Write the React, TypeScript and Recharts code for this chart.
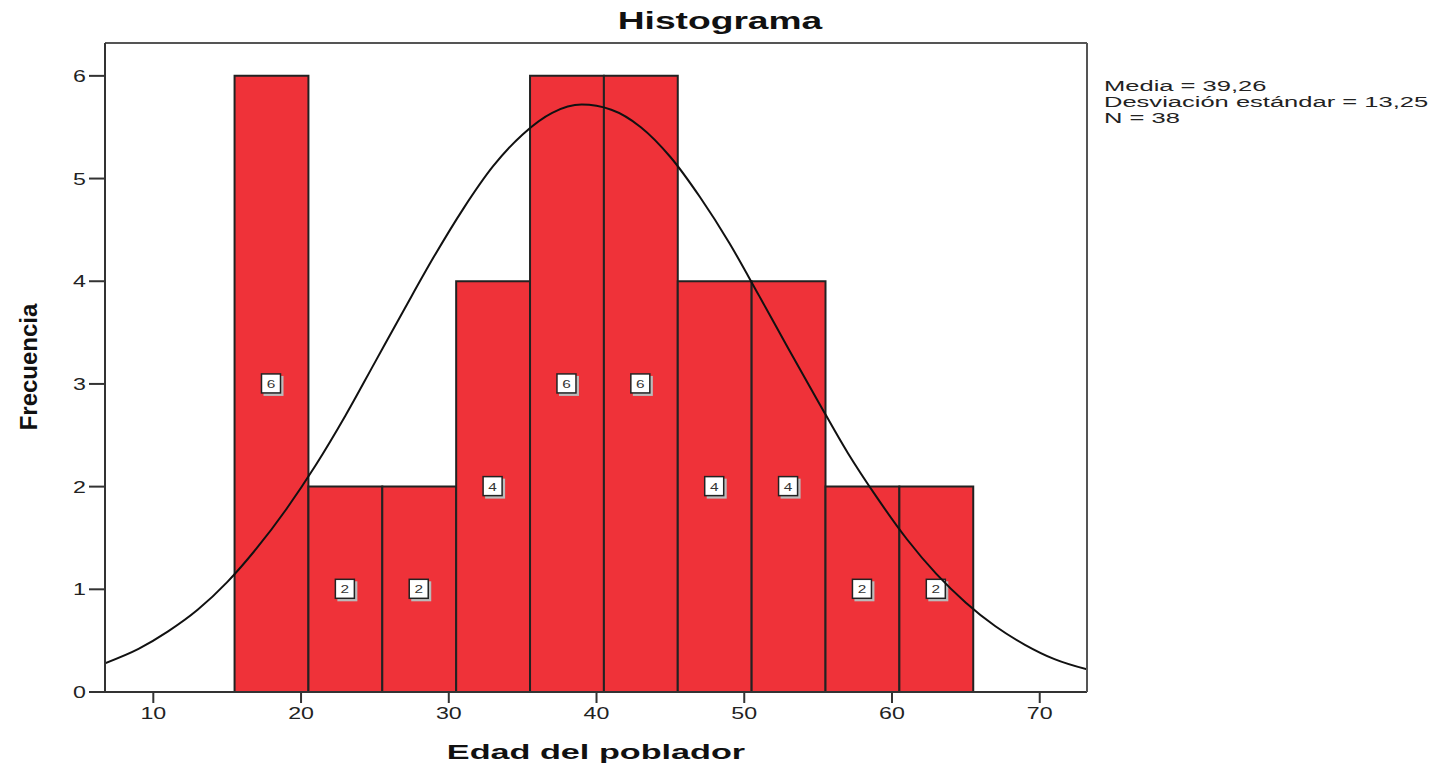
import React from "react"
import {
  ComposedChart,
  Line,
  XAxis,
  YAxis,
  ReferenceArea,
} from "recharts"

// histogram bins (edad) and frequencies
const binLower = [15.5, 20.5, 25.5, 30.5, 35.5, 40.5, 45.5, 50.5, 55.5, 60.5]
const binUpper = [20.5, 25.5, 30.5, 35.5, 40.5, 45.5, 50.5, 55.5, 60.5, 65.5]
const frequencies = [6, 2, 2, 4, 6, 6, 4, 4, 2, 2]

// normal curve
const curveAges = [
  6.73, 9, 11, 13, 15, 17, 19, 21, 23, 25, 27, 29, 31, 33, 35, 37, 39, 41, 43,
  45, 47, 49, 51, 53, 55, 57, 59, 61, 63, 65, 67, 69, 71, 73.2,
]
const curveFreq = [
  0.28, 0.42, 0.59, 0.8, 1.07, 1.4, 1.78, 2.21, 2.69, 3.21, 3.73, 4.24, 4.71,
  5.12, 5.43, 5.64, 5.72, 5.67, 5.5, 5.21, 4.82, 4.37, 3.86, 3.34, 2.83, 2.33,
  1.89, 1.49, 1.15, 0.87, 0.64, 0.46, 0.32, 0.22,
]

const xTicks = [10, 20, 30, 40, 50, 60, 70]
const yTicks = [0, 1, 2, 3, 4, 5, 6]
const statLines = ["Media = 39,26", "Desviación estándar = 13,25", "N = 38"]

const FONT = '"Liberation Sans", Arial, sans-serif'
const AXIS = "#333"
const BAR_FILL = "#ef3239"

const curveData = curveAges.map((age, i) => ({ age, freq: curveFreq[i] }))

const XTick = ({ x, y, payload }: any) => (
  <text
    transform={`translate(${x},${y + 12}) scale(1.45,1)`}
    textAnchor="middle"
    fontSize={16}
    fontFamily={FONT}
    fill="#222"
  >
    {payload.value}
  </text>
)

const YTick = ({ x, y, payload }: any) => (
  <text
    transform={`translate(${x},${y + 6}) scale(1.45,1)`}
    textAnchor="end"
    fontSize={16}
    fontFamily={FONT}
    fill="#222"
  >
    {payload.value}
  </text>
)

const CountBox = ({ viewBox, value }: any) => {
  if (!viewBox) return null
  const cx = viewBox.x + viewBox.width / 2
  const cy = viewBox.y + viewBox.height / 2
  return (
    <g>
      <rect x={cx - 8} y={cy - 8} width={20} height={20} fill="#bbb" />
      <rect
        x={cx - 10}
        y={cy - 10}
        width={19}
        height={19}
        fill="#fff"
        stroke="#222"
        strokeWidth={1.5}
      />
      <text
        transform={`translate(${cx - 0.5},${cy + 4}) scale(1.4,1)`}
        textAnchor="middle"
        fontSize={11}
        fontFamily={FONT}
        fill="#333"
      >
        {value}
      </text>
    </g>
  )
}

export default function App() {
  return (
    <div style={{ position: "absolute", left: 0, top: 0, width: 1435, height: 768 }}>
      <ComposedChart
        width={1435}
        height={768}
        data={curveData}
        margin={{ top: 42, right: 347, bottom: 36, left: 0 }}
      >
        <XAxis
          dataKey="age"
          type="number"
          domain={[6.73, 73.2]}
          ticks={xTicks}
          allowDataOverflow
          height={40}
          tickSize={11}
          tickMargin={4}
          tick={XTick}
          axisLine={{ stroke: AXIS, strokeWidth: 2 }}
          tickLine={{ stroke: AXIS, strokeWidth: 2 }}
        />
        <XAxis
          xAxisId="top"
          orientation="top"
          type="number"
          dataKey="age"
          domain={[6.73, 73.2]}
          allowDataOverflow
          height={1}
          tick={false}
          tickLine={false}
          axisLine={{ stroke: "#555", strokeWidth: 2 }}
        />
        <YAxis
          type="number"
          domain={[0, 6.32]}
          ticks={yTicks}
          allowDataOverflow
          width={105}
          tickSize={16}
          tickMargin={3}
          tick={YTick}
          axisLine={{ stroke: AXIS, strokeWidth: 2 }}
          tickLine={{ stroke: AXIS, strokeWidth: 2 }}
        />
        <YAxis
          yAxisId="right"
          orientation="right"
          type="number"
          domain={[0, 6.32]}
          allowDataOverflow
          width={1}
          tick={false}
          tickLine={false}
          axisLine={{ stroke: "#555", strokeWidth: 2 }}
        />
        {frequencies.map((f, i) => (
          <ReferenceArea
            key={i}
            x1={binLower[i]}
            x2={binUpper[i]}
            y1={0}
            y2={f}
            fill={BAR_FILL}
            fillOpacity={1}
            stroke="#222"
            strokeWidth={2}
            label={(p: any) => <CountBox {...p} value={f} />}
          />
        ))}
        <Line
          dataKey="freq"
          type="monotone"
          stroke="#111"
          strokeWidth={2}
          dot={false}
          activeDot={false}
          isAnimationActive={false}
        />
      </ComposedChart>
      <svg
        width={1435}
        height={768}
        style={{ position: "absolute", left: 0, top: 0, pointerEvents: "none" }}
      >
        <text
          transform="translate(720,29) scale(1.55,1)"
          textAnchor="middle"
          fontSize={24}
          fontWeight="bold"
          fontFamily={FONT}
          fill="#111"
        >
          Histograma
        </text>
        <text
          transform="translate(596,759) scale(1.63,1)"
          textAnchor="middle"
          fontSize={21}
          fontWeight="bold"
          fontFamily={FONT}
          fill="#111"
        >
          Edad del poblador
        </text>
        <text
          transform="translate(37,367) rotate(-90)"
          textAnchor="middle"
          fontSize={24}
          fontWeight="bold"
          fontFamily={FONT}
          fill="#111"
        >
          Frecuencia
        </text>
        {statLines.map((s, i) => (
          <text
            key={s}
            transform={`translate(1104,${91 + i * 16}) scale(1.76,1)`}
            fontSize={14.5}
            fontFamily={FONT}
            fill="#222"
          >
            {s}
          </text>
        ))}
      </svg>
    </div>
  )
}
